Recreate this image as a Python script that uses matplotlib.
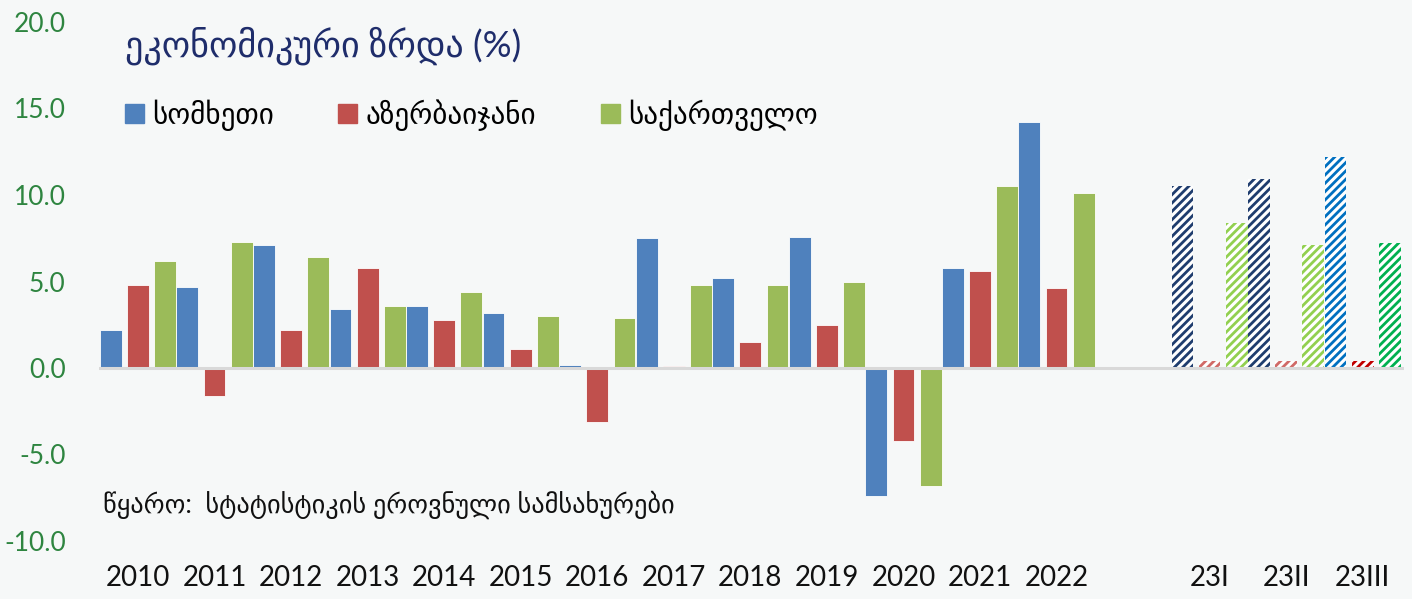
import numpy as np
import matplotlib.pyplot as plt
from matplotlib.patches import Patch

plt.rcParams['font.family'] = ['Lato', 'DejaVu Sans']
plt.rcParams['hatch.linewidth'] = 2.0

# მონაცემები
labels = ['2010', '2011', '2012', '2013', '2014', '2015', '2016', '2017', '2018',
          '2019', '2020', '2021', '2022', '', '23I', '23II', '23III']
armenia = [2.2, 4.7, 7.1, 3.4, 3.6, 3.2, 0.2, 7.5, 5.2, 7.6, -7.4, 5.8, 14.2, np.nan, 10.5, 10.9, 12.2]
azerbaijan = [4.8, -1.6, 2.2, 5.8, 2.8, 1.1, -3.1, 0.1, 1.5, 2.5, -4.2, 5.6, 4.6, np.nan, 0.4, 0.4, 0.4]
georgia = [6.2, 7.3, 6.4, 3.6, 4.4, 3.0, 2.9, 4.8, 4.8, 5.0, -6.8, 10.5, 10.1, np.nan, 8.4, 7.1, 7.2]
series_names = ['სომხეთი', 'აზერბაიჯანი', 'საქართველო']

bg = '#F6F8F8'
base_cols = ['#4F81BD', '#C0504D', '#9BBB59']
# კვარტლების დაშტრიხული სვეტების ფერები
q_cols = [['#1F3D6E', '#1F3D6E', '#0070C0'],
          ['#D06A67', '#D06A67', '#C00000'],
          ['#92D050', '#92D050', '#00B050']]

fig = plt.figure(figsize=(14.12, 5.99), dpi=100, facecolor=bg)
ax = fig.add_axes([99 / 1412, 1 - 541 / 599, (1404 - 99) / 1412, (541 - 22) / 599])
ax.set_facecolor(bg)

x = np.arange(len(labels))
w = 0.285
offs = [-0.355, 0.0, 0.355]
n_year = 13
for k, vals in enumerate([armenia, azerbaijan, georgia]):
    vals = np.array(vals, dtype=float)
    ax.bar(x[:n_year] + offs[k], vals[:n_year], w, color=base_cols[k],
           edgecolor='white', linewidth=0.6, zorder=2)
    for j, i in enumerate(range(n_year + 1, len(labels))):
        ax.bar(x[i] + offs[k], vals[i], w, color='white', edgecolor=q_cols[k][j],
               hatch='////', linewidth=0, zorder=2)

ax.axhline(0, color='#D9D9D9', lw=2.2, zorder=3)
ax.set_xlim(-0.51, 16.54)
ax.set_ylim(-10, 20)
ax.set_yticks(np.arange(-10, 21, 5))
ax.set_yticklabels([f'{v:.1f}' for v in np.arange(-10, 21, 5)])
ax.set_xticks(x)
ax.set_xticklabels(labels)
ax.tick_params(axis='y', length=0, pad=24, labelsize=19, labelcolor='#2E8540')
ax.tick_params(axis='x', length=0, pad=17, labelsize=20, labelcolor='#111111')
for s in ax.spines.values():
    s.set_visible(False)

fig.text(125 / 1412, 1 - 46 / 599, 'ეკონომიკური ზრდა (%)', fontsize=26,
         color='#1F2D6B', va='center', ha='left')
fig.text(103 / 1412, 1 - 505 / 599, 'წყარო:  სტატისტიკის ეროვნული სამსახურები',
         fontsize=19, color='#111111', va='center', ha='left')

handles = [Patch(color=c) for c in base_cols]
leg = fig.legend(handles, series_names, loc='center left', ncol=3,
                 bbox_to_anchor=(110 / 1412, 1 - 115 / 599), frameon=False,
                 fontsize=21, handlelength=0.65, handleheight=0.65,
                 handletextpad=0.3, columnspacing=2.2, borderpad=0)

fig.savefig('out.png', dpi=100, facecolor=bg)
